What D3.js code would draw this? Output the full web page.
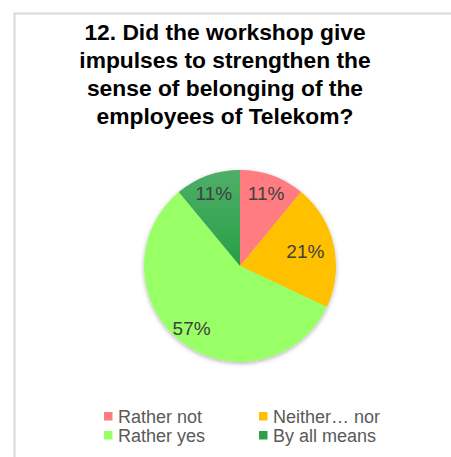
<!DOCTYPE html>
<html>
<head>
<meta charset="utf-8">
<script src="https://cdn.jsdelivr.net/npm/d3@7"></script>
<style>
  body { margin: 0; background: #fff; }
  svg { display: block; font-family: "Liberation Sans", Arial, sans-serif; }
</style>
</head>
<body>
<div id="chart"></div>
<script>
// Chart data
const categories = ["Rather not", "Neither\u2026 nor", "Rather yes", "By all means"];
const values = [11, 21, 57, 11];
const colors = ["#ff7c80", "#ffc000", "#99ff66", "url(#darkGreen)"];
const legendColors = ["#ff7c80", "#ffc000", "#99ff66", "#2ea04a"];
const titleLines = ["12. Did the workshop give", "impulses to strengthen the", "sense of belonging of the", "employees of Telekom?"];

const width = 451, height = 457;
const cx = 240, cy = 266, radius = 96;
// label distance from centre for each slice
const labelR = [77, 67, 79, 77];

const svg = d3.select("#chart").append("svg")
    .attr("width", width)
    .attr("height", height);

const defs = svg.append("defs");
const grad = defs.append("linearGradient").attr("id", "darkGreen")
    .attr("x1", 0).attr("y1", 0).attr("x2", 0).attr("y2", 1);
grad.append("stop").attr("offset", "0%").attr("stop-color", "#4fae68");
grad.append("stop").attr("offset", "100%").attr("stop-color", "#26a046");

const shadow = defs.append("filter").attr("id", "shadow")
    .attr("x", "-20%").attr("y", "-20%").attr("width", "140%").attr("height", "140%");
shadow.append("feDropShadow").attr("dx", 0).attr("dy", 1.5).attr("stdDeviation", 2)
    .attr("flood-color", "#000").attr("flood-opacity", 0.3);

// Frame (only left and top edges fall inside the window)
svg.append("rect")
    .attr("x", 14.5).attr("y", 13.5)
    .attr("width", 460).attr("height", 470)
    .attr("fill", "none")
    .attr("stroke", "#d9d9d9")
    .attr("stroke-width", 2);

// Title
svg.append("text")
    .attr("text-anchor", "middle")
    .attr("font-size", 22.8)
    .attr("font-weight", "bold")
    .attr("fill", "#000")
    .selectAll("tspan").data(titleLines).enter().append("tspan")
    .attr("x", 225)
    .attr("y", (d, i) => 39.5 + i * 28.3)
    .text(d => d);

// Pie
const pie = d3.pie().sort(null).value(d => d)(values);
const arc = d3.arc().innerRadius(0).outerRadius(radius);

const g = svg.append("g").attr("transform", `translate(${cx},${cy})`);

g.append("g").attr("filter", "url(#shadow)")
    .selectAll("path").data(pie).enter().append("path")
    .attr("d", arc)
    .attr("fill", (d, i) => colors[i]);

g.selectAll(".label").data(pie).enter().append("text")
    .attr("class", "label")
    .attr("transform", (d, i) => {
        const a = (d.startAngle + d.endAngle) / 2;
        return `translate(${Math.sin(a) * labelR[i]},${-Math.cos(a) * labelR[i]})`;
    })
    .attr("text-anchor", "middle")
    .attr("dy", "0.36em")
    .attr("font-size", 19)
    .attr("fill", "#404040")
    .text(d => d.data + "%");

// Legend (two columns)
const legend = svg.append("g");
const items = legend.selectAll("g").data(categories).enter().append("g")
    .attr("transform", (d, i) => `translate(${i % 2 === 0 ? 104 : 259},${412 + Math.floor(i / 2) * 19})`);

items.append("rect")
    .attr("width", 8.5).attr("height", 8.5)
    .attr("fill", (d, i) => legendColors[i]);

items.append("text")
    .attr("x", 14)
    .attr("y", 10.5)
    .attr("font-size", 18)
    .attr("fill", "#595959")
    .text(d => d);
</script>
</body>
</html>
